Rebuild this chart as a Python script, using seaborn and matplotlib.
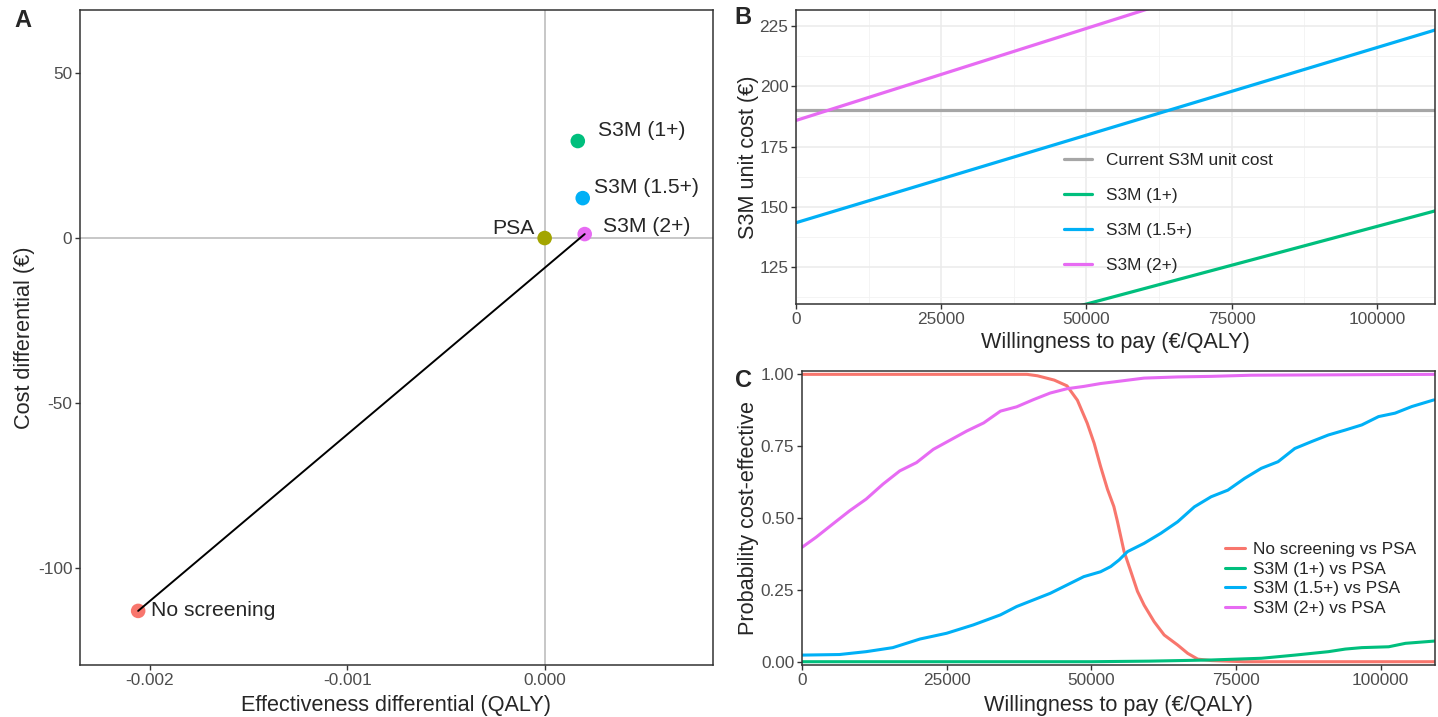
import numpy as np
import pandas as pd
import seaborn as sns
import matplotlib.pyplot as plt

# --- Panel A : differentiels cout / efficacite vs PSA
strategies = ["No screening", "PSA", "S3M (1+)", "S3M (1.5+)", "S3M (2+)"]
eff_diff = [-0.00206, 0.0, 0.000168, 0.000193, 0.000203]
cost_diff = [-113.0, 0.0, 29.4, 12.1, 1.2]
frontier = ["No screening", "S3M (2+)"]
colors = ["#F8766D", "#A3A500", "#00BF7D", "#00B0F6", "#E76BF3"]

# --- Panel B : prix seuil du S3M
wtp_b = [0, 110000]
price_current = [190, 190]
price_1 = [77.5, 148.3]
price_15 = [143.4, 223.3]
price_2 = [185.8, 269.8]
b_labels = ["Current S3M unit cost", "S3M (1+)", "S3M (1.5+)", "S3M (2+)"]
b_colors = ["#A6A6A6", "#00BF7D", "#00B0F6", "#E76BF3"]

# --- Panel C : courbes d'acceptabilite
wtp_ns = [0, 38900, 40700, 43600, 45800, 47600, 49300, 50500, 51600, 52800, 53900, 54500,
          55660, 56820, 57980, 59130, 60870, 62600, 64930, 66670, 68400, 70700, 76400, 109400]
p_ns = [1.0, 1.0, 0.995, 0.98, 0.96, 0.91, 0.83, 0.76, 0.68, 0.60, 0.54, 0.49,
        0.384, 0.315, 0.245, 0.197, 0.139, 0.093, 0.058, 0.029, 0.009, 0.004, 0.0, 0.0]
wtp_1 = [0, 50000, 60000, 70700, 79400, 85200, 91000, 93900, 96750, 101400, 104300, 109400]
p_1 = [0, 0, 0.002, 0.006, 0.012, 0.023, 0.035, 0.044, 0.049, 0.052, 0.064, 0.072]
wtp_15 = [0, 6480, 11100, 15700, 20400, 25000, 29600, 34300, 37100, 40000, 42900, 45800,
          48700, 51600, 53350, 54800, 56250, 59130, 62030, 64930, 67820, 70710, 73600, 76500,
          79380, 82280, 85170, 88070, 90970, 93860, 96750, 99650, 102500, 105400, 109200]
p_15 = [0.023, 0.025, 0.035, 0.049, 0.079, 0.099, 0.128, 0.163, 0.192, 0.215, 0.238, 0.267,
        0.296, 0.313, 0.331, 0.354, 0.383, 0.412, 0.447, 0.487, 0.539, 0.574, 0.597, 0.638,
        0.673, 0.696, 0.742, 0.766, 0.789, 0.806, 0.824, 0.853, 0.865, 0.888, 0.911]
wtp_2 = [0, 2430, 5310, 8220, 11100, 14000, 16900, 19800, 22700, 25600, 28500, 31400, 34300,
         37100, 40000, 42900, 45800, 48700, 51600, 54800, 59130, 64930, 70710, 77660, 109400]
p_2 = [0.398, 0.433, 0.479, 0.525, 0.566, 0.618, 0.664, 0.693, 0.739, 0.771, 0.803, 0.831, 0.872,
       0.887, 0.912, 0.935, 0.950, 0.958, 0.968, 0.976, 0.987, 0.991, 0.993, 0.997, 1.0]
c_labels = ["No screening vs PSA", "S3M (1+) vs PSA", "S3M (1.5+) vs PSA", "S3M (2+) vs PSA"]
c_colors = ["#F8766D", "#00BF7D", "#00B0F6", "#E76BF3"]

sns.set_theme(style="white")
plt.rcParams['font.family'] = ['Liberation Sans', 'DejaVu Sans']
plt.rcParams['axes.unicode_minus'] = False
plt.rcParams['axes.edgecolor'] = "#333333"
plt.rcParams['axes.linewidth'] = 1.1
plt.rcParams['xtick.color'] = "#333333"
plt.rcParams['ytick.color'] = "#333333"
plt.rcParams['xtick.labelcolor'] = "#4D4D4D"
plt.rcParams['ytick.labelcolor'] = "#4D4D4D"
plt.rcParams['xtick.bottom'] = True
plt.rcParams['ytick.left'] = True

tick_fs = 12.4
lab_fs = 15.6
ann_fs = 15.2

fig = plt.figure(figsize=(14.38, 7.17), dpi=100)
axA = fig.add_axes([0.0556, 0.0725, 0.4402, 0.9135])
axB = fig.add_axes([0.5535, 0.576, 0.4444, 0.410])
axC = fig.add_axes([0.5577, 0.0725, 0.4402, 0.410])

# ---- A
dfA = pd.DataFrame({"strategy": strategies, "eff": eff_diff, "cost": cost_diff})
axA.axhline(0, color="#BEBEBE", lw=1.2, zorder=0)
axA.axvline(0, color="#BEBEBE", lw=1.2, zorder=0)
sns.scatterplot(data=dfA, x="eff", y="cost", hue="strategy", palette=colors,
                s=110, edgecolor="none", legend=False, ax=axA, zorder=3)
fr = dfA.set_index("strategy").loc[frontier]
axA.plot(fr["eff"], fr["cost"], color="black", lw=1.4, zorder=4)
offsets = {"No screening": (13, 0, "left"), "PSA": (-10, 10, "right"),
           "S3M (1+)": (20, 11, "left"), "S3M (1.5+)": (11, 11, "left"),
           "S3M (2+)": (18, 8, "left")}
for s, e, c in zip(strategies, eff_diff, cost_diff):
    dx, dy, ha = offsets[s]
    axA.annotate(s, (e, c), xytext=(dx, dy), textcoords="offset pixels",
                 ha=ha, va="center", fontsize=ann_fs)
axA.set_xlim(-0.002355, 0.000853)
axA.set_ylim(-129.4, 69.1)
axA.set_xticks([-0.002, -0.001, 0.0])
axA.set_xticklabels(["-0.002", "-0.001", "0.000"])
axA.set_yticks([-100, -50, 0, 50])
axA.set_xlabel("Effectiveness differential (QALY)", fontsize=lab_fs, labelpad=5)
axA.set_ylabel("Cost differential (€)", fontsize=lab_fs, labelpad=2)

# ---- B
dfB = pd.concat([
    pd.DataFrame({"wtp": wtp_b, "price": v, "serie": l})
    for v, l in zip([price_current, price_1, price_15, price_2], b_labels)])
sns.lineplot(data=dfB, x="wtp", y="price", hue="serie", palette=b_colors,
             lw=2.3, estimator=None, ax=axB)
axB.set_xlim(0, 110000)
axB.set_ylim(109.7, 231.6)
axB.set_xticks([0, 25000, 50000, 75000, 100000])
axB.set_xticklabels(["0", "25000", "50000", "75000", "100000"])
axB.set_yticks([125, 150, 175, 200, 225])
axB.set_xticks([12500, 37500, 62500, 87500], minor=True)
axB.set_yticks([112.5, 137.5, 162.5, 187.5, 212.5], minor=True)
axB.grid(True, which="major", color="#EBEBEB", lw=1.1)
axB.grid(True, which="minor", color="#F2F2F2", lw=0.6)
axB.tick_params(which="minor", length=0)
axB.set_axisbelow(True)
axB.set_xlabel("Willingness to pay (€/QALY)", fontsize=lab_fs, labelpad=4)
axB.set_ylabel("S3M unit cost (€)", fontsize=lab_fs, labelpad=0.5)
axB.legend(title=None, frameon=False, fontsize=tick_fs, loc="center left",
           bbox_to_anchor=(0.42, 0.31), handlelength=1.6, handletextpad=0.8,
           labelspacing=1.15, borderpad=0, borderaxespad=0)

# ---- C
dfC = pd.concat([
    pd.DataFrame({"wtp": w, "p": p, "serie": l})
    for w, p, l in zip([wtp_ns, wtp_1, wtp_15, wtp_2], [p_ns, p_1, p_15, p_2], c_labels)])
sns.lineplot(data=dfC, x="wtp", y="p", hue="serie", palette=c_colors,
             lw=2.2, estimator=None, ax=axC)
axC.set_xlim(0, 109400)
axC.set_ylim(-0.0115, 1.0115)
axC.set_xticks([0, 25000, 50000, 75000, 100000])
axC.set_xticklabels(["0", "25000", "50000", "75000", "100000"])
axC.set_yticks([0, 0.25, 0.5, 0.75, 1.0])
axC.set_yticklabels(["0.00", "0.25", "0.50", "0.75", "1.00"])
axC.set_xlabel("Willingness to pay (€/QALY)", fontsize=lab_fs, labelpad=5)
axC.set_ylabel("Probability cost-effective", fontsize=lab_fs, labelpad=1.5)
axC.legend(title=None, frameon=False, fontsize=tick_fs, loc="center left",
           bbox_to_anchor=(0.668, 0.293), handlelength=1.15, handletextpad=0.46,
           labelspacing=0.26, borderpad=0, borderaxespad=0)

for ax in (axA, axB, axC):
    ax.tick_params(labelsize=tick_fs, length=3.5, width=1.0, pad=2)
    for sp in ax.spines.values():
        sp.set_visible(True)

fig.text(0.0097, 0.972, "A", fontsize=17, fontweight="bold", va="center")
fig.text(0.511, 0.975, "B", fontsize=17, fontweight="bold", va="center")
fig.text(0.511, 0.469, "C", fontsize=17, fontweight="bold", va="center")

fig.savefig("out.png", dpi=100)
